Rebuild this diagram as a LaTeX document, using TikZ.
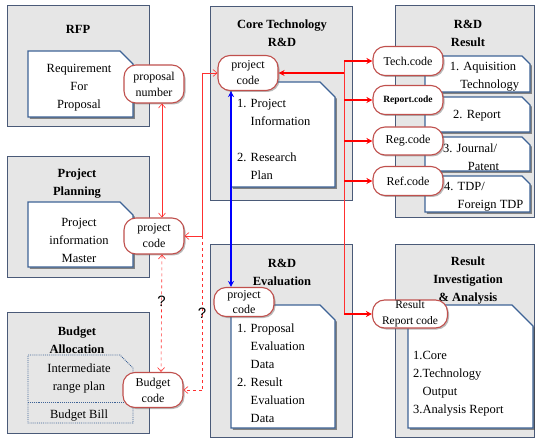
\documentclass[tikz,border=0pt]{standalone}
\usepackage{fontspec}
\setmainfont{Liberation Serif}
\newfontfamily\qfont{Liberation Sans}
\usetikzlibrary{arrows.meta,shadows}
\definecolor{panelfill}{HTML}{E6E6E6}
\definecolor{panelline}{HTML}{4A5A78}
\definecolor{docline}{HTML}{3E6396}
\definecolor{codeline}{HTML}{C0504D}
\definecolor{lred}{HTML}{FF3030}
\newcommand\docpath[5]{(#1,#2) -- (#3-#5,#2) -- (#3,#2+#5) -- (#3,#4) -- (#1,#4) -- cycle}
\tikzset{
  panel/.style={draw=panelline, line width=1pt, fill=panelfill, anchor=north west, inner sep=0pt},
  ttl/.style={font=\fontsize{12.5}{18}\selectfont\bfseries, align=center, inner sep=0pt},
  doc/.style={draw=docline, line width=1.1pt, fill=white,
    drop shadow={shadow xshift=1.8pt, shadow yshift=-1.8pt, fill=black!75, opacity=0.6}},
  dtxt/.style={font=\fontsize{12.5}{18}\selectfont, align=center, inner sep=0pt},
  dtxtl/.style={font=\fontsize{12.5}{18}\selectfont, align=left, inner sep=0pt, anchor=west},
  code/.style={draw=codeline, line width=1.1pt, fill=white, rounded corners=12pt,
    font=\fontsize{12}{16}\selectfont, align=center, inner sep=0pt,
    drop shadow={shadow xshift=1.5pt, shadow yshift=-1.5pt, fill=black!60, opacity=0.45}},
  thinred/.style={draw=lred, line width=0.6pt},
  thinarr/.style={thinred, -{Straight Barb[length=4pt,width=7pt]}},
  biarr/.style={thinred, {Straight Barb[length=4pt,width=7pt]}-{Straight Barb[length=4pt,width=7pt]}},
  thickred/.style={draw=red, line width=1.4pt, -{Stealth[length=6pt,width=6pt]}},
  qmark/.style={font=\qfont\fontsize{15}{15}\selectfont, inner sep=0pt},
}
\begin{document}
\begin{tikzpicture}[x=1pt,y=-1pt]
\useasboundingbox (0,0) rectangle (535,438);
% panels
\node[panel, minimum width=142pt, minimum height=121pt] (rfp) at (7,5) {};
\node[panel, minimum width=142pt, minimum height=121pt] (plan) at (7,156) {};
\node[panel, minimum width=142pt, minimum height=121pt] (budget) at (7,312) {};
\node[panel, minimum width=142pt, minimum height=194pt] (core) at (210,6) {};
\node[panel, minimum width=142pt, minimum height=193pt] (eval) at (210,244) {};
\node[panel, minimum width=139pt, minimum height=212pt] (res) at (395,5) {};
\node[panel, minimum width=139pt, minimum height=193pt] (inv) at (395,244) {};
% titles
\node[ttl] (trfp) at (78,29) {RFP};
\node[ttl] (tplan) at (77,184) {Project\\Planning};
\node[ttl] (tbud) at (77,340) {Budget\\Allocation};
\node[ttl] (tcore) at (282,33) {Core Technology\\R\&D};
\node[ttl] (tres) at (468,33) {R\&D\\Result};
\node[ttl] (teval) at (282,272) {R\&D\\Evaluation};
\node[ttl] (tinv) at (468,281) {Result\\Investigation\\\& Analysis};
% documents
\draw[doc] \docpath{28}{51}{133}{117}{13};
\node[dtxt] (drfp) at (79,88) {Requirement\\For\\Proposal};
\draw[doc] \docpath{28}{202}{133}{267}{13};
\node[dtxt] (dplan) at (79,240) {Project\\information\\Master};
\draw[draw=docline, line width=0.9pt, densely dotted, fill=panelfill] \docpath{28}{355}{133}{423}{13};
\draw[draw=docline, line width=0.9pt, densely dotted] (28,402) -- (133,402);
\node[dtxt] (dbud1) at (79,379) {Intermediate\\range plan};
\node[dtxt] (dbud2) at (79,416) {Budget Bill};
\draw[doc] \docpath{231}{82}{335}{187}{15};
\node[dtxtl] (dcore) at (237,139) {1. Project\\\hphantom{1. }Information\\[18pt]2. Research\\\hphantom{1. }Plan};
\draw[doc] \docpath{231}{305}{335}{428}{15};
\node[dtxtl] (deval) at (237,373) {1. Proposal\\\hphantom{1. }Evaluation\\\hphantom{1. }Data\\2. Result\\\hphantom{1. }Evaluation\\\hphantom{1. }Data};
\draw[doc] \docpath{425}{56}{530}{92}{8};
\node[dtxt] (dr1) at (483,77) {1. Aquisition\\\hphantom{1. }Technology};
\draw[doc] \docpath{425}{97}{530}{132}{8};
\node[dtxt] (dr2) at (477,116) {2. Report};
\draw[doc] \docpath{425}{137}{530}{171}{8};
\node[dtxtl] (dr3) at (443,157) {3. Journal/\\\hphantom{3. Jo}Patent};
\draw[doc] \docpath{425}{176}{530}{212}{8};
\node[dtxtl] (dr4) at (444,197) {4. TDP/\\\hphantom{4. }Foreign TDP};
\draw[doc] \docpath{408}{305}{533}{428}{21};
\node[dtxtl] (dinv) at (413,384) {1.Core\\2.Technology\\\hphantom{2.}Output\\3.Analysis Report};
% code nodes
\node[code, minimum width=60pt, minimum height=38pt] (pn) at (154,84) {proposal\\number};
\node[code, minimum width=60pt, minimum height=36pt] (pcp) at (154,236) {project\\code};
\node[code, minimum width=60pt, minimum height=35pt] (bc) at (153,390) {Budget\\code};
\node[code, minimum width=60pt, minimum height=35pt] (pcc) at (248,73) {project\\\hphantom{pr}code\hphantom{pr}};
\node[code, minimum width=60pt, minimum height=29pt, font=\fontsize{12}{15}\selectfont] (pce) at (244,302) {project\\code};
\node[code, minimum width=70pt, minimum height=29pt] (tc) at (408,61) {Tech.code};
\node[code, minimum width=70pt, minimum height=29pt, font=\fontsize{9.5}{12}\selectfont\bfseries] (rc) at (408,100) {Report.code};
\node[code, minimum width=70pt, minimum height=28pt] (gc) at (408,141) {Reg.code};
\node[code, minimum width=70pt, minimum height=29pt] (fc) at (408,181) {Ref.code};
\node[code, minimum width=75pt, minimum height=28pt, font=\fontsize{11.5}{16}\selectfont] (rrc) at (410,314) {Result\\Report code};
% left connectors
\draw[biarr] ([xshift=8pt]pn.south) -- ([xshift=8pt]pcp.north);
\draw[biarr, dashed] ([xshift=8pt]pcp.south) -- ([xshift=8pt]bc.north)
  node[qmark, pos=0.4] (q1) {?};
\coordinate (j1) at (202,73);
\coordinate (j2) at (202,236);
\coordinate (j3) at (202,390);
\draw[thinred] (j1) -- (j2);
\draw[thinarr] (j1) -- (pcc.west);
\draw[thinarr] (j2) -- (pcp.east);
\draw[thinred, dashed] (j2) -- (j3) node[qmark, pos=0.5] (q2) {?};
\draw[thinarr, dashed] (j3) -- (bc.east);
% blue connector
\coordinate (b) at (231,0);
\draw[blue, line width=1.3pt, {Stealth[length=6pt,width=6pt]}-{Stealth[length=6pt,width=6pt]}] (pcc.south -| b) -- (pce.north -| b);
% right connectors
\coordinate (v1) at (344,61);
\coordinate (v2) at (344,314);
\draw[thinred] (v1) -- (v2);
\draw[thickred] (pcc.east -| v1) -- (pcc.east);
\draw[thickred] (v1) -- (tc.west);
\draw[thickred] (rc.west -| v1) -- (rc.west);
\draw[thickred] (gc.west -| v1) -- (gc.west);
\draw[thickred] (fc.west -| v1) -- (fc.west);
\draw[thickred] (v2) -- (rrc.west);
\end{tikzpicture}
\end{document}
